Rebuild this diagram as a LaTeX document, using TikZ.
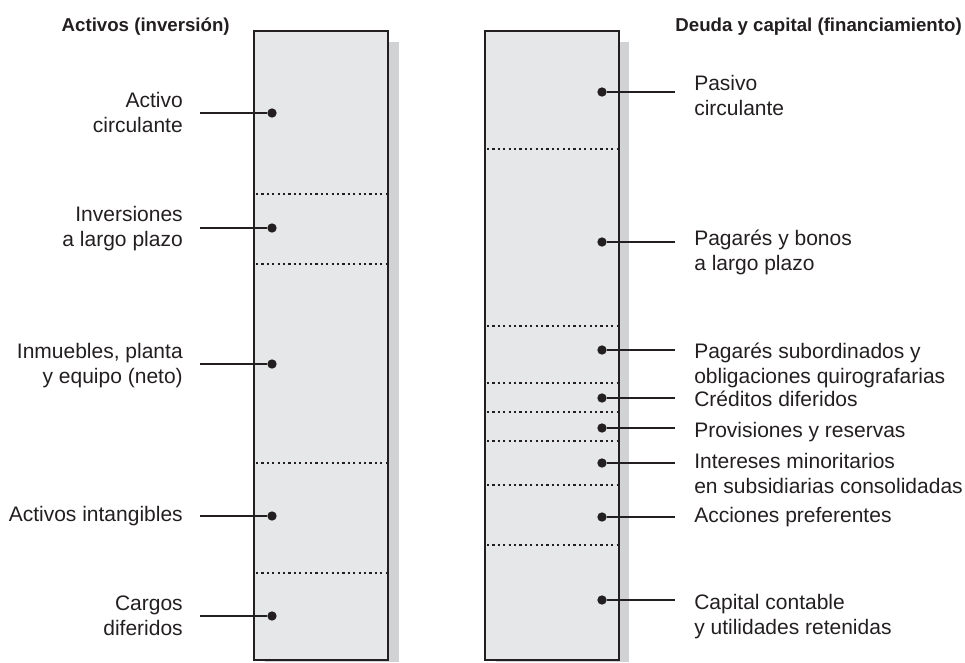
\documentclass[tikz,border=0pt]{standalone}
\usepackage{fontspec}
\setmainfont{Liberation Sans}
\usetikzlibrary{positioning}
\definecolor{Ink}{HTML}{231F20}
\definecolor{Panel}{HTML}{E6E7E8}
\definecolor{Shade}{HTML}{D1D2D4}

\begin{document}
\begin{tikzpicture}[x=0.75pt,y=-0.75pt,
    panel/.style={draw=Ink,fill=Panel,line width=2pt},
    shade/.style={fill=Shade},
    divider/.style={Ink,line width=1.8pt,dash pattern=on 1.7pt off 2.35pt},
    leader/.style={Ink,line width=1.8pt},
    pin/.style={circle,fill=Ink,inner sep=0pt,minimum size=7pt},
    item/.style={text=Ink,font=\fontsize{15.75}{18.75}\selectfont,inner sep=0pt},
    head/.style={text=Ink,font=\fontsize{14}{16}\selectfont\bfseries,inner sep=0pt}]
  \useasboundingbox (0,0) rectangle (965,662);

  % columns with their shadows
  \fill[shade] (265,42) rectangle (399,662);
  \fill[shade] (496,42) rectangle (629,662);
  \draw[panel] (254,31) rectangle (388,660);
  \draw[panel] (485,31) rectangle (619,660);

  \foreach \y in {194,264,463,573}{\draw[divider] (256,\y) -- (387,\y);}
  \foreach \y in {149,326,383,412,441,485,545}{\draw[divider] (487,\y) -- (618,\y);}

  \node[head,anchor=base east] (hassets) at (230,31) {Activos (inversión)};
  \node[head,anchor=base east] (hfunds) at (962,31) {Deuda y capital (financiamiento)};

  % assets: pin, leader, label (label sits on its last baseline)
  \foreach \n/\y/\b/\t in {ac/113/132/{Activo\\circulante},
      inv/228/246/{Inversiones\\a largo plazo},
      ipe/364/383/{Inmuebles, planta\\y equipo (neto)},
      ai/516/521/{Activos intangibles},
      cd/616/635/{Cargos\\diferidos}}{
    \node[pin] (\n) at (272,\y) {};
    \coordinate (\n-end) at (200,\y);
    \draw[leader] (\n-end) -- (\n);
    \node[item,align=right,anchor=base east] (\n-label) at (183,\b) {\t};
  }

  % debt and equity
  \foreach \n/\y/\b/\t in {pc/92/115/{Pasivo\\circulante},
      pb/242/270/{Pagarés y bonos\\a largo plazo},
      ps/350/383/{Pagarés subordinados y\\obligaciones quirografarias},
      cr/398/406/{Créditos diferidos},
      pr/428/437/{Provisiones y reservas},
      im/463/493/{Intereses minoritarios\\en subsidiarias consolidadas},
      ap/517/522/{Acciones preferentes},
      cc/600/634/{Capital contable\\y utilidades retenidas}}{
    \node[pin] (\n) at (602,\y) {};
    \coordinate (\n-end) at (675,\y);
    \draw[leader] (\n) -- (\n-end);
    \node[item,align=left,anchor=base west] (\n-label) at (694,\b) {\t};
  }
\end{tikzpicture}
\end{document}
